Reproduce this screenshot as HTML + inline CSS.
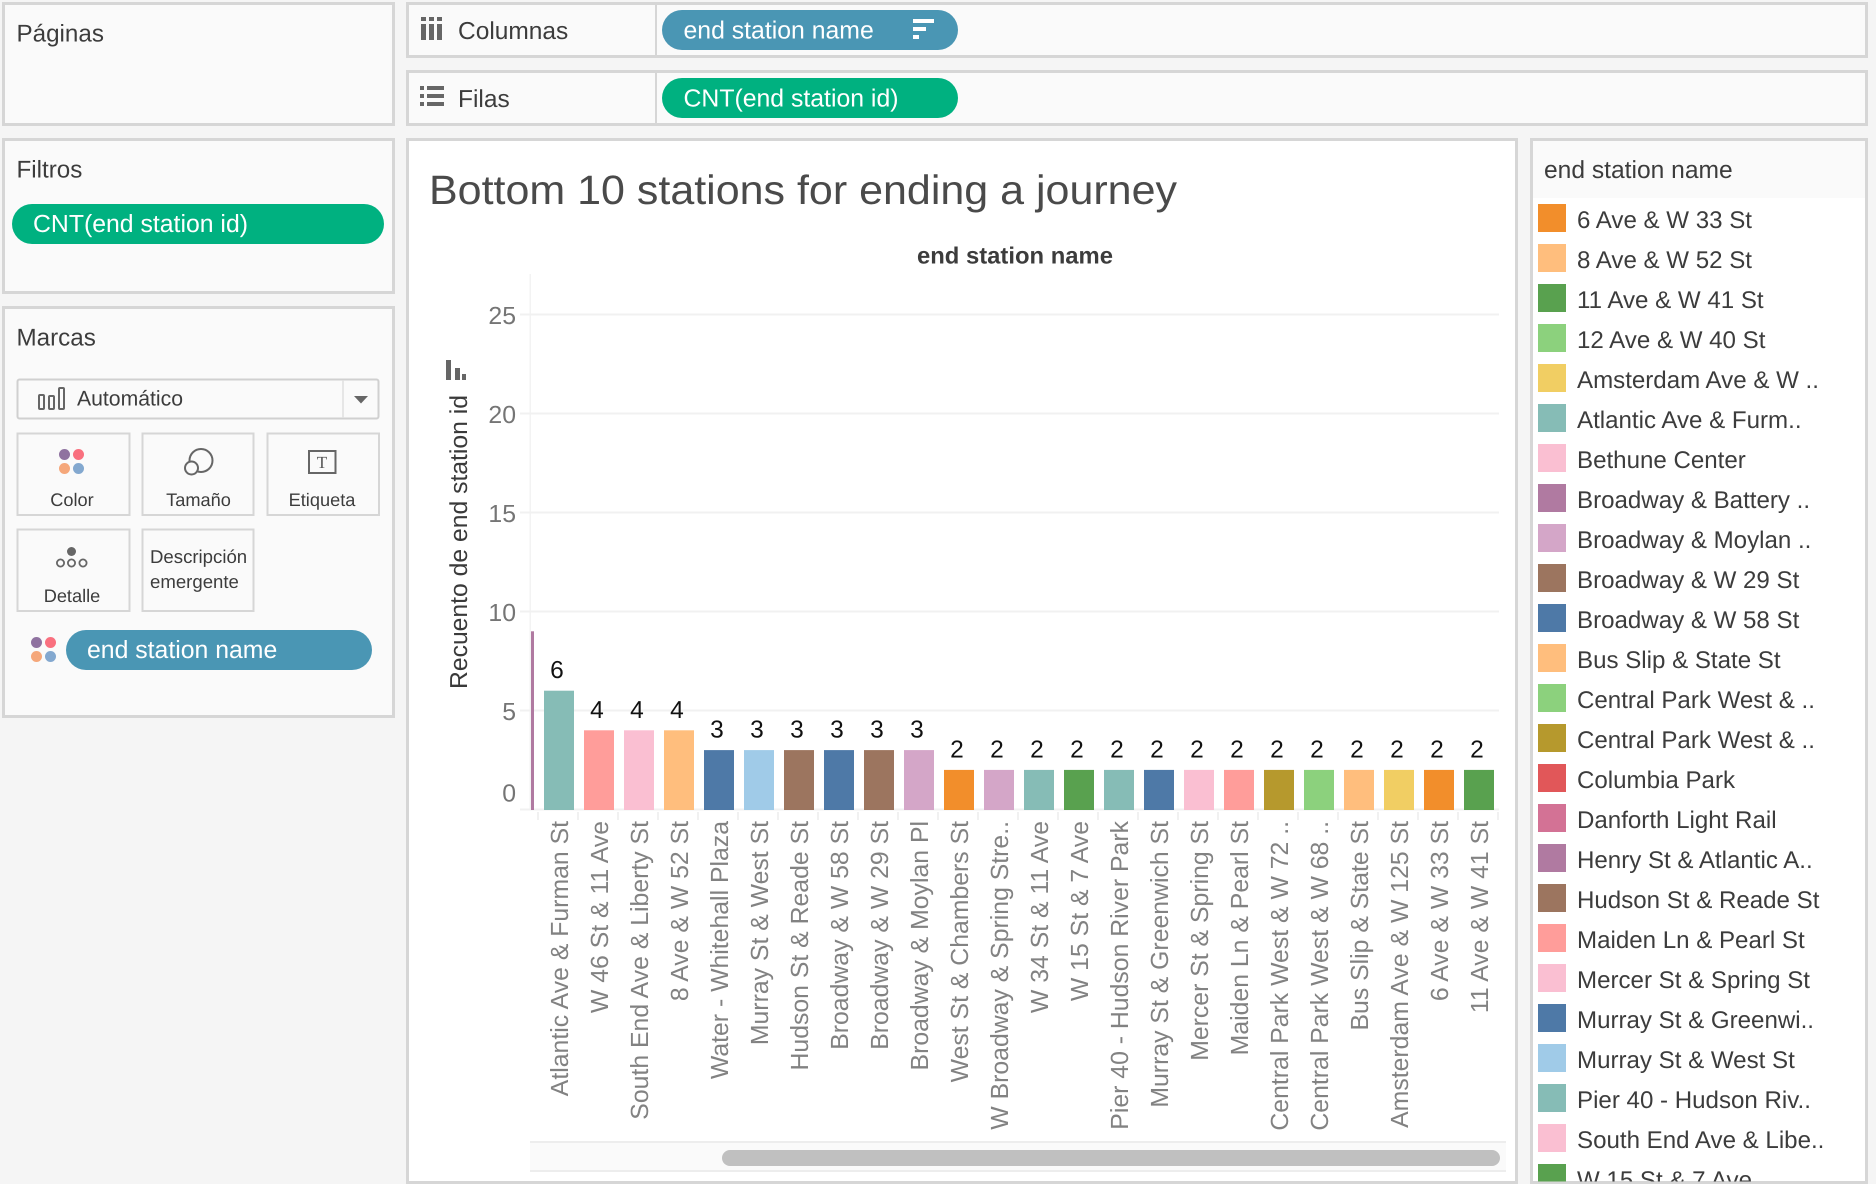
<!DOCTYPE html>
<html lang="es">
<head>
<meta charset="utf-8">
<title>Bottom 10 stations for ending a journey</title>
<style>
html,body{margin:0;padding:0;width:1876px;height:1184px;overflow:hidden;background:#f5f5f5}
svg{display:block;position:absolute;left:0;top:0}
text{font-family:"Liberation Sans",sans-serif;text-rendering:geometricPrecision}
.panel{fill:#fafafa;stroke:#d6d6d6;stroke-width:3}
.card{fill:#fafafa;stroke:#d6d6d6;stroke-width:2}
.head{font-size:24.2px;fill:#3c3c3c}
.pilltext{font-size:24.8px;fill:#fff}
.cardtext{font-size:18.2px;fill:#3c3c3c}
</style>
</head>
<body>
<svg id="page" xmlns="http://www.w3.org/2000/svg" width="1876" height="1184" viewBox="0 0 1876 1184">
  <defs>
    <clipPath id="plot-clip"><rect x="531" y="260" width="970" height="900"/></clipPath>
    <clipPath id="label-clip"><rect x="536" y="260" width="965" height="900"/></clipPath>
    <clipPath id="legend-clip"><rect x="1532" y="198" width="334" height="983.5"/></clipPath>
  </defs>

  <g>
    <rect class="panel" x="3.5" y="3.5" width="390" height="121"/>
    <text class="head" x="16.5" y="41.5">Páginas</text>
  </g>

  <g>
    <rect class="panel" x="3.5" y="139.5" width="390" height="153"/>
    <text class="head" x="16.5" y="177.5">Filtros</text>
    <rect x="12" y="204" width="372" height="40" rx="20" fill="#00b180"/>
    <text class="pilltext" x="33" y="232">CNT(end station id)</text>
  </g>

  <g>
    <rect class="panel" x="3.5" y="307.5" width="390" height="409"/>
    <text class="head" x="16.5" y="345.5">Marcas</text>

    <g>
      <rect x="17.5" y="379.5" width="361" height="39" rx="2" fill="#fafafa" stroke="#d0d0d0" stroke-width="2"/>
      <line x1="343" y1="380" x2="343" y2="418" stroke="#e0e0e0" stroke-width="1.5"/>
      <g fill="none" stroke="#666" stroke-width="2">
        <rect x="39" y="395" width="5" height="14" rx="1"/>
        <rect x="49" y="396" width="5" height="13" rx="1"/>
        <rect x="59" y="388" width="5" height="21" rx="1"/>
      </g>
      <text x="77" y="405.7" font-size="21.2" fill="#3c3c3c">Automático</text>
      <polygon points="354,396 368,396 361,403.5" fill="#666"/>
    </g>

    <g>
      <rect class="card" x="17.5" y="433.5" width="112" height="81.5"/>
      <g>
        <circle cx="64.5" cy="454.5" r="5.5" fill="#8f72a0"/>
        <circle cx="78.5" cy="454.5" r="5.5" fill="#f9707f"/>
        <circle cx="64.5" cy="468.5" r="5.5" fill="#f5a77a"/>
        <circle cx="78.5" cy="468.5" r="5.5" fill="#83a8cf"/>
      </g>
      <text class="cardtext" x="72" y="506" text-anchor="middle">Color</text>
    </g>

    <g>
      <rect class="card" x="142.5" y="433.5" width="111" height="81.5"/>
      <g fill="none" stroke="#666" stroke-width="2">
        <circle cx="201" cy="460.5" r="11.5"/>
        <circle cx="191.5" cy="468" r="6.5" fill="#fafafa"/>
      </g>
      <text class="cardtext" x="198.5" y="506" text-anchor="middle">Tamaño</text>
    </g>

    <g>
      <rect class="card" x="267.5" y="433.5" width="111.5" height="81.5"/>
      <rect x="309" y="451" width="26.5" height="22" fill="none" stroke="#666" stroke-width="2"/>
      <text x="322" y="468" font-size="17" text-anchor="middle" fill="#555" style="font-family:'Liberation Serif',serif">T</text>
      <text class="cardtext" x="322" y="506" text-anchor="middle">Etiqueta</text>
    </g>

    <g>
      <rect class="card" x="17.5" y="529.5" width="112" height="81.5"/>
      <g>
        <circle cx="71.5" cy="551.5" r="4.5" fill="#666"/>
        <g fill="none" stroke="#666" stroke-width="1.8">
          <circle cx="60.5" cy="563" r="3.6"/>
          <circle cx="71.5" cy="563" r="3.6"/>
          <circle cx="83" cy="563" r="3.6"/>
        </g>
      </g>
      <text class="cardtext" x="72" y="602" text-anchor="middle">Detalle</text>
    </g>

    <g>
      <rect class="card" x="142.5" y="529.5" width="111" height="81.5"/>
      <text class="cardtext" x="150" y="563" font-size="18.6" style="font-size:18.6px">Descripción</text>
      <text class="cardtext" x="150" y="588" style="font-size:18.6px">emergente</text>
    </g>

    <g>
      <circle cx="36.5" cy="642.5" r="5.5" fill="#8f72a0"/>
      <circle cx="50.5" cy="642.5" r="5.5" fill="#f9707f"/>
      <circle cx="36.5" cy="656.5" r="5.5" fill="#f5a77a"/>
      <circle cx="50.5" cy="656.5" r="5.5" fill="#83a8cf"/>
    </g>
    <rect x="66" y="630" width="306" height="40" rx="20" fill="#4a96b4"/>
    <text class="pilltext" x="87" y="658">end station name</text>
  </g>

  <g>
    <rect class="panel" x="407.5" y="3.5" width="1459" height="53"/>
    <line x1="656" y1="4" x2="656" y2="56" stroke="#d6d6d6" stroke-width="2"/>
    <g fill="#666">
      <rect x="421" y="17" width="5" height="4"/><rect x="429" y="17" width="5" height="4"/><rect x="437" y="17" width="5" height="4"/>
      <rect x="421" y="24" width="5" height="16"/><rect x="429" y="24" width="5" height="16"/><rect x="437" y="24" width="5" height="16"/>
    </g>
    <text x="458" y="39" font-size="24.5" fill="#3c3c3c">Columnas</text>
    <rect x="662" y="10" width="296" height="40" rx="20" fill="#4a96b4"/>
    <text class="pilltext" x="683.5" y="38.5">end station name</text>
    <g fill="#fff">
      <rect x="913" y="19" width="21" height="4"/>
      <rect x="913" y="27" width="13" height="4"/>
      <rect x="913" y="35" width="6" height="4"/>
    </g>
  </g>

  <g>
    <rect class="panel" x="407.5" y="71.5" width="1459" height="53"/>
    <line x1="656" y1="72" x2="656" y2="124" stroke="#d6d6d6" stroke-width="2"/>
    <g fill="#666">
      <rect x="420" y="86" width="4" height="4"/><rect x="427" y="86" width="17" height="4"/>
      <rect x="420" y="94" width="4" height="4"/><rect x="427" y="94" width="17" height="4"/>
      <rect x="420" y="102" width="4" height="4"/><rect x="427" y="102" width="17" height="4"/>
    </g>
    <text x="458" y="107" font-size="24.5" fill="#3c3c3c">Filas</text>
    <rect x="662" y="78" width="296" height="40" rx="20" fill="#00b180"/>
    <text class="pilltext" x="683.5" y="106.5">CNT(end station id)</text>
  </g>

  <g id="chart">
    <rect x="407.5" y="139.5" width="1109" height="1043" fill="#fff" stroke="#d6d6d6" stroke-width="3"/>
    <text x="429" y="204" font-size="41" fill="#4a4a4a" textLength="748" lengthAdjust="spacingAndGlyphs">Bottom 10 stations for ending a journey</text>
    <text x="917" y="263.5" font-size="23.5" font-weight="700" fill="#3c3c3c" textLength="196" lengthAdjust="spacingAndGlyphs">end station name</text>
    <g id="grid"></g>
    <g fill="#666">
      <rect x="446" y="360" width="5" height="20"/>
      <rect x="455" y="368" width="5" height="12"/>
      <rect x="462" y="374" width="4" height="6"/>
    </g>
    <text transform="translate(467,689) rotate(-90)" font-size="24.5" fill="#3a3a3a" textLength="294" lengthAdjust="spacingAndGlyphs">Recuento de end station id</text>
    <g id="y-ticks"></g>
    <g id="x-ticks"></g>
    <g id="bars" clip-path="url(#plot-clip)"></g>
    <g id="labels" clip-path="url(#label-clip)"></g>
    <g id="scrollbar">
      <rect x="530" y="1142" width="976" height="28" fill="#fafafa"/>
      <rect x="530" y="1141" width="976" height="2" fill="#ededed"/>
      <rect x="530" y="1170" width="976" height="2" fill="#ededed"/>
      <rect x="722" y="1150" width="778" height="16" rx="8" fill="#c0c0c0"/>
    </g>
  </g>

  <g>
    <rect x="1531.5" y="139.5" width="335" height="1043" fill="#fff" stroke="#d6d6d6" stroke-width="3"/>
    <rect x="1533" y="141" width="332" height="57" fill="#fafafa"/>
    <text x="1544" y="178" font-size="24.6" fill="#3c3c3c">end station name</text>
    <g id="legend" clip-path="url(#legend-clip)"></g>
  </g>
</svg>
<script>
// Chart data
const categories = ["Henry St & Atlantic Ave", "Atlantic Ave & Furman St", "W 46 St & 11 Ave", "South End Ave & Liberty St", "8 Ave & W 52 St", "Water - Whitehall Plaza", "Murray St & West St", "Hudson St & Reade St", "Broadway & W 58 St", "Broadway & W 29 St", "Broadway & Moylan Pl", "West St & Chambers St", "W Broadway & Spring Stre..", "W 34 St & 11 Ave", "W 15 St & 7 Ave", "Pier 40 - Hudson River Park", "Murray St & Greenwich St", "Mercer St & Spring St", "Maiden Ln & Pearl St", "Central Park West & W 72 ..", "Central Park West & W 68 ..", "Bus Slip & State St", "Amsterdam Ave & W 125 St", "6 Ave & W 33 St", "11 Ave & W 41 St"];
const values = [9, 6, 4, 4, 4, 3, 3, 3, 3, 3, 3, 2, 2, 2, 2, 2, 2, 2, 2, 2, 2, 2, 2, 2, 2];
const seriesColors = ["#b07aa1", "#86bcb6", "#ff9d9a", "#fabfd2", "#ffbe7d", "#4e79a7", "#a0cbe8", "#9c755f", "#4e79a7", "#9c755f", "#d4a6c8", "#f28e2b", "#d4a6c8", "#86bcb6", "#59a14f", "#86bcb6", "#4e79a7", "#fabfd2", "#ff9d9a", "#b6992d", "#8cd17d", "#ffbe7d", "#f1ce63", "#f28e2b", "#59a14f"];
const yTicks = [0, 5, 10, 15, 20, 25];
const legendNames = ["6 Ave & W 33 St", "8 Ave & W 52 St", "11 Ave & W 41 St", "12 Ave & W 40 St", "Amsterdam Ave & W ..", "Atlantic Ave & Furm..", "Bethune Center", "Broadway & Battery ..", "Broadway & Moylan ..", "Broadway & W 29 St", "Broadway & W 58 St", "Bus Slip & State St", "Central Park West & ..", "Central Park West & ..", "Columbia Park", "Danforth Light Rail", "Henry St & Atlantic A..", "Hudson St & Reade St", "Maiden Ln & Pearl St", "Mercer St & Spring St", "Murray St & Greenwi..", "Murray St & West St", "Pier 40 - Hudson Riv..", "South End Ave & Libe..", "W 15 St & 7 Ave"];
const legendColors = ["#f28e2b", "#ffbe7d", "#59a14f", "#8cd17d", "#f1ce63", "#86bcb6", "#fabfd2", "#b07aa1", "#d4a6c8", "#9c755f", "#4e79a7", "#ffbe7d", "#8cd17d", "#b6992d", "#e15759", "#d37295", "#b07aa1", "#9c755f", "#ff9d9a", "#fabfd2", "#4e79a7", "#a0cbe8", "#86bcb6", "#fabfd2", "#59a14f"];

const NS = "http://www.w3.org/2000/svg";
function mk(tag, attrs, parent, txt) {
  const el = document.createElementNS(NS, tag);
  for (const k in attrs) el.setAttribute(k, attrs[k]);
  if (txt !== undefined) el.textContent = txt;
  parent.appendChild(el);
  return el;
}
// Axis functions
function yScale(v) { return 809.5 - v * 19.8; }
function xBand(i) { return 504 + 40 * i; }
const bandWidth = 30;

const gridG = document.getElementById("grid");
const yTickG = document.getElementById("y-ticks");
const xTickG = document.getElementById("x-ticks");
const barsG = document.getElementById("bars");
const labelsG = document.getElementById("labels");
const legendG = document.getElementById("legend");

const axisLine = mk("rect", {x: 529.5, y: 274, width: 1.5, height: yScale(0) - 274, fill: "#f3f3f3"}, gridG);



yTicks.forEach(function (t) {
  const y = yScale(t);
  const line = mk("rect", {x: 520, y: y - 1, width: 979, height: 2, fill: "#f1f1f1"}, gridG);
  
  
  const label = mk("text", {x: 516, y: Math.min(y + 9.5, 801.5), "text-anchor": "end", "font-size": 24.8, fill: "#757575"}, yTickG, String(t));
  
  
});

categories.forEach(function (name, i) {
  if (i > 0) {
    const tick = mk("rect", {x: xBand(i) - 7, y: 812, width: 2, height: 8, fill: "#f1f1f1"}, xTickG);
    
    
  }
  const bar = mk("rect", {x: xBand(i), y: yScale(values[i]), width: bandWidth, height: yScale(0) - yScale(values[i]) + 0.5, fill: seriesColors[i]}, barsG);
  
  
  const val = mk("text", {x: xBand(i) + bandWidth / 2 - 2, y: yScale(values[i]) - 12.5, "text-anchor": "middle", "font-size": 24.5, fill: "#111"}, labelsG, String(values[i]));
  
  
  const cx = xBand(i) + bandWidth / 2 + 9;
  const cat = mk("text", {transform: "translate(" + cx + ",821) rotate(-90)", "text-anchor": "end", "font-size": 24.8, fill: "#828282"}, labelsG, name);
  
  
});
const lastTick = mk("rect", {x: xBand(categories.length) - 7, y: 812, width: 2, height: 8, fill: "#f1f1f1"}, xTickG);



legendNames.forEach(function (name, i) {
  const y = 204 + 40 * i;
  const swatch = mk("rect", {x: 1538, y: y, width: 28, height: 28, fill: legendColors[i]}, legendG);
  
  
  const label = mk("text", {x: 1577, y: y + 24, "font-size": 24.1, fill: "#3c3c3c"}, legendG, name);
  
  
});
</script>
</body>
</html>
